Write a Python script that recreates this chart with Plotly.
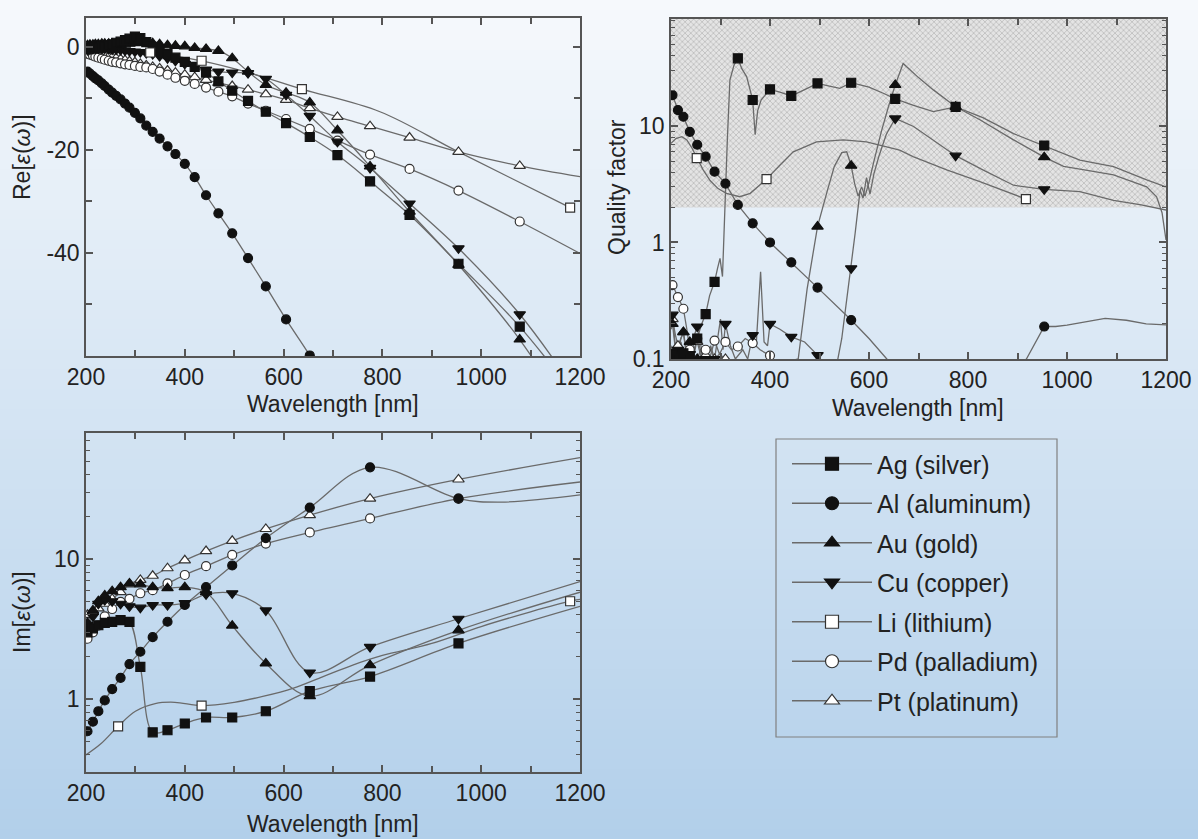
import plotly.graph_objects as go

W, H = 1198, 839
FONT = "Liberation Sans, Arial, Helvetica, sans-serif"

# ---------------- DATA ----------------
METALS = ["Ag", "Al", "Au", "Cu", "Li", "Pd", "Pt"]
LEGEND_NAMES = ["Ag (silver)", "Al (aluminum)", "Au (gold)", "Cu (copper)",
                "Li (lithium)", "Pd (palladium)", "Pt (platinum)"]

# Re[eps] panel: common wavelength grid of the markers (nm)
RE_WL = [203, 208, 214, 219, 225, 232, 238, 246, 253, 261, 270, 279, 288, 299, 310, 322, 335,
         349, 365, 381, 400, 420, 443, 468, 496, 528, 564, 605, 653, 709, 775, 855, 954, 1078]
RE_AG = [-0.3, -0.3, -0.3, -0.2, -0.1, 0.0, 0.1, 0.3, 0.5, 0.8, 1.0, 1.3, 1.6, 2.0, 1.7, 0.9, 0.0,
         -0.8, -1.4, -2.1, -2.9, -3.9, -5.0, -6.7, -8.5, -10.5, -12.6, -14.8, -17.5, -21.0, -26.1,
         -32.6, -42.1, -54.3]
RE_AL = [-4.8, -5.2, -5.7, -6.1, -6.5, -7.1, -7.6, -8.3, -8.9, -9.5, -10.2, -11.0, -11.8, -12.8,
         -13.9, -15.3, -16.5, -17.8, -19.3, -20.8, -22.7, -25.3, -28.8, -32.3, -36.2, -41.0,
         -46.5, -52.9, -59.9, -69.0, None, None, None, None]
RE_AU = [0.3, 0.4, 0.4, 0.5, 0.5, 0.6, 0.6, 0.6, 0.6, 0.6, 0.6, 0.6, 0.6, 0.7, 0.8, 0.8, 0.7,
         0.5, 0.3, 0.2, 0.1, -0.2, -0.4, -0.8, -2.2, -4.8, -7.4, -8.9, -10.8, -16.2, -23.2,
         -32.0, -42.3, -56.8]
RE_CU = [-0.6, -0.5, -0.4, -0.3, -0.3, -0.3, -0.3, -0.4, -0.5, -0.5, -0.6, -0.7, -0.8, -0.9,
         -1.0, -1.2, -1.4, -1.8, -2.2, -2.7, -3.3, -3.9, -4.4, -4.8, -5.0, -5.1, -6.2, -9.3,
         -13.4, -18.4, -23.5, -30.4, -39.1, -51.9]
RE_PD = [-1.3, -1.5, -1.7, -1.9, -2.1, -2.3, -2.5, -2.7, -2.9, -3.0, -3.2, -3.4, -3.5, -3.7,
         -3.9, -4.0, -4.3, -4.8, -5.4, -6.0, -6.6, -7.2, -7.9, -8.7, -9.6, -11.0, -12.4, -14.0,
         -15.9, -18.2, -20.9, -23.7, -27.9, -33.9]
RE_PT = [-1.1, -1.2, -1.3, -1.4, -1.5, -1.6, -1.7, -1.9, -2.0, -2.2, -2.4, -2.6, -2.8, -3.0,
         -3.3, -3.6, -3.9, -4.2, -4.6, -5.0, -5.4, -5.9, -6.4, -7.0, -7.6, -8.3, -9.2, -10.3,
         -11.9, -13.6, -15.4, -17.6, -20.4, -23.1]
# line continuation to the right edge (no marker)
RE_END_WL = 1200
RE_END = {"Ag": -69.0, "Al": None, "Au": -75.0, "Cu": -68.0, "Pd": -40.1, "Pt": -25.2}
# lithium has its own sampling, markers only at some points
RE_LI_WL = [200, 265, 330, 434, 530, 637, 795, 952, 1180]
RE_LI = [-0.2, -0.5, -1.1, -2.7, -5.0, -8.2, -12.6, -20.3, -31.2]
RE_LI_MARK = [0, 0, 1, 1, 0, 1, 0, 0, 1]

# Im[eps] panel
IM_WL = [203, 214, 225, 238, 253, 270, 288, 310, 335, 365, 400, 443, 496, 564, 653, 775, 954]
IM_AG = [3.0, 3.2, 3.37, 3.5, 3.56, 3.66, 3.56, 1.7, 0.58, 0.6, 0.67, 0.74, 0.74, 0.82, 1.14, 1.45, 2.5]
IM_AL = [0.59, 0.69, 0.82, 0.98, 1.18, 1.42, 1.78, 2.18, 2.77, 3.57, 4.7, 6.3, 9.0, 14.1, 23.3, 45.2, 27.0]
IM_AU = [3.5, 4.3, 5.0, 5.5, 5.9, 6.3, 6.7, 6.6, 6.3, 6.2, 6.3, 5.8, 3.35, 1.8, 1.05, 1.75, 3.1]
IM_CU = [3.4, 3.9, 4.8, 5.1, 5.0, 4.8, 4.6, 4.5, 4.7, 4.7, 4.85, 5.6, 5.7, 4.3, 1.55, 2.36, 3.75]
IM_PD = [2.7, 3.0, 3.35, 3.9, 4.4, 4.95, 5.2, 5.7, 6.0, 6.7, 7.7, 8.9, 10.7, 12.9, 15.5, 19.5, 27.0]
IM_PT = [4.0, 4.2, 4.45, 4.8, 5.2, 5.8, 6.6, 7.1, 7.6, 8.6, 9.8, 11.4, 13.5, 16.4, 20.6, 27.0, 37.0]
IM_END_WL = {"Ag": [1200], "Al": [1040, 1200], "Au": [1200], "Cu": [1200], "Pd": [1200], "Pt": [1200]}
IM_END = {"Ag": [4.6], "Al": [25.5, 28.7], "Au": [5.8], "Cu": [6.9], "Pd": [35.5], "Pt": [53.0]}
IM_LI_WL = [200, 230, 265, 300, 340, 380, 434, 500, 560, 620, 680, 740, 800, 900, 1000, 1100, 1180, 1200]
IM_LI = [0.40, 0.48, 0.64, 0.82, 0.93, 0.95, 0.90, 0.95, 1.05, 1.2, 1.45, 1.75, 2.05, 2.5, 3.3, 4.2, 5.0, 5.15]
IM_LI_MARK = [0, 0, 1, 0, 0, 0, 1, 0, 0, 0, 0, 0, 0, 0, 0, 0, 1, 0]

# Quality factor panel: curves
QF_AG_WL = [200, 205, 210, 214, 220, 225, 232, 238, 245, 253, 262, 270, 278, 288, 294, 299, 304, 309,
            314, 319, 327, 335, 343, 353, 360, 365, 370, 375, 382, 400, 420, 443, 470, 496, 520, 541,
            564, 600, 630, 653, 690, 730, 775, 830, 892, 954, 1026, 1094, 1161, 1200]
QF_AG = [0.13, 0.1, 0.12, 0.1, 0.14, 0.112, 0.1, 0.1, 0.13, 0.15, 0.2, 0.243, 0.35, 0.46, 0.6, 0.73,
         0.51, 2.5, 8.0, 24.8, 33, 38.1, 31, 26.4, 20, 16.7, 8.4, 13.5, 16.7, 20.6, 19.5, 18.1, 20.5,
         23.2, 22, 21, 23.5, 21.5, 19, 17.1, 15, 13.3, 14.6, 11.8, 8.6, 6.8, 5.1, 4.48, 3.44, 3.0]
QF_AL_WL = [200, 203, 214, 225, 238, 253, 270, 288, 310, 335, 365, 400, 443, 496, 564, 600, 636, 650,
            905, 918, 954, 977, 1000, 1040, 1077, 1120, 1160, 1200]
QF_AL = [20, 18.4, 13.7, 12.0, 8.9, 6.9, 5.45, 4.05, 3.2, 2.1, 1.46, 1.0, 0.676, 0.41, 0.216, 0.15,
         0.1, 0.085, 0.085, 0.1, 0.19, 0.19, 0.195, 0.21, 0.223, 0.215, 0.2, 0.196]
QF_AU_WL = [200, 203, 208, 214, 220, 225, 232, 238, 245, 253, 260, 270, 280, 290, 300, 457, 475, 496,
            516, 530, 545, 555, 564, 571, 578, 585, 592, 600, 610, 625, 640, 653, 669, 700, 730, 775,
            824, 892, 954, 993, 1050, 1094, 1161, 1181, 1192, 1200]
QF_AU = [0.18, 0.2, 0.13, 0.11, 0.15, 0.17, 0.1, 0.14, 0.1, 0.1, 0.12, 0.09, 0.1, 0.08, 0.07, 0.1,
         0.4, 1.37, 2.8, 4.5, 5.9, 6.0, 4.56, 3.2, 2.5, 3.0, 2.5, 3.3, 5.0, 9.0, 15.0, 22.5, 34.4,
         26.0, 20.4, 14.6, 11.3, 7.6, 5.4, 4.5, 4.1, 3.8, 3.0, 2.47, 1.8, 1.05]
QF_CU_WL = [200, 203, 208, 214, 220, 225, 232, 238, 245, 253, 262, 270, 280, 288, 300, 305, 310, 320,
            330, 345, 355, 365, 372, 381, 388, 395, 400, 420, 443, 470, 496, 510, 535, 545, 564, 572,
            582, 588, 595, 602, 610, 620, 635, 653, 690, 730, 775, 830, 892, 954, 1026, 1094, 1150, 1200]
QF_CU = [0.2, 0.24, 0.14, 0.12, 0.1, 0.1, 0.13, 0.11, 0.15, 0.19, 0.12, 0.1, 0.13, 0.1, 0.22, 0.12,
         0.2, 0.13, 0.1, 0.12, 0.1, 0.16, 0.13, 0.56, 0.14, 0.13, 0.2, 0.18, 0.155, 0.14, 0.108, 0.09,
         0.09, 0.15, 0.6, 1.2, 2.8, 2.4, 3.6, 2.6, 3.9, 5.5, 8.5, 11.6, 9.9, 7.5, 5.56, 4.2, 3.1, 2.86,
         2.73, 2.3, 2.1, 1.9]
QF_LI_WL = [200, 210, 222, 232, 242, 252, 265, 279, 295, 312, 339, 360, 393, 420, 447, 494, 548, 595,
            622, 662, 689, 757, 824, 870, 917]
QF_LI = [7.1, 7.8, 8.1, 7.6, 6.5, 5.3, 4.2, 3.4, 2.9, 2.64, 2.47, 2.64, 3.5, 4.6, 6.0, 7.3, 7.6, 7.3,
         6.8, 6.2, 5.45, 4.2, 3.33, 2.8, 2.36]
QF_LI_MARK = [0, 0, 0, 0, 0, 1, 0, 0, 0, 0, 0, 0, 1, 0, 0, 0, 0, 0, 0, 0, 0, 0, 0, 0, 1]
QF_PD_WL = [200, 203, 209, 214, 220, 225, 232, 238, 245, 253, 262, 270, 278, 288, 298, 310, 322, 335,
            350, 365, 380, 400, 415]
QF_PD = [0.46, 0.43, 0.38, 0.34, 0.3, 0.27, 0.18, 0.12, 0.1, 0.15, 0.11, 0.12, 0.1, 0.144, 0.11, 0.14,
         0.12, 0.128, 0.15, 0.137, 0.12, 0.107, 0.085]
QF_PT_WL = [200, 203, 209, 214, 220, 225, 232, 238, 245, 253, 262, 270, 280, 288, 298, 310, 322, 335, 345]
QF_PT = [0.23, 0.22, 0.16, 0.13, 0.15, 0.17, 0.11, 0.1, 0.12, 0.14, 0.1, 0.108, 0.12, 0.1, 0.11, 0.1,
         0.09, 0.08, 0.075]
# Quality factor panel: markers on the common grid IM_WL
QFM_AG = [0.11, 0.1, 0.112, 0.1, 0.15, 0.243, 0.46, None, 38.1, 16.7, 20.6, 18.1, 23.2, 23.5, 17.1, 14.6, 6.8]
QFM_AL = [18.4, 13.7, 12.0, 8.9, 6.9, 5.45, 4.05, 3.2, 2.1, 1.46, 1.0, 0.676, 0.41, 0.216, None, None, 0.19]
QFM_AU = [0.2, 0.11, 0.17, 0.14, 0.1, None, None, None, None, None, None, None, 1.37, 4.56, 22.5, 14.6, 5.4]
QFM_CU = [0.24, 0.12, 0.1, 0.11, 0.19, 0.1, 0.1, 0.2, None, 0.16, 0.2, 0.155, 0.108, 0.6, 11.6, 5.56, 2.86]
QFM_PD = [0.43, 0.34, 0.27, 0.12, 0.15, 0.12, 0.144, 0.14, 0.128, 0.137, 0.107, None, None, None, None, None, None]
QFM_PT = [0.22, 0.13, 0.17, 0.1, 0.14, 0.108, 0.1, 0.1, None, None, None, None, None, None, None, None, None]
QF_SHADE_MIN = 2  # quality factor threshold of shaded band

X_TICKS = [200, 400, 600, 800, 1000, 1200]
X_MINOR = [300, 500, 700, 900, 1100]
RE_TICKS = [-40, -20, 0]
RE_TICKTEXT = ["-40", "-20", "0"]
RE_MINOR = [-50, -30, -10]
QF_TICKS = [0.1, 1, 10]
QF_TICKTEXT = ["0.1", "1", "10"]
QF_MINOR = [0.2, 0.3, 0.4, 0.5, 0.6, 0.7, 0.8, 0.9, 2, 3, 4, 5, 6, 7, 8, 9, 20, 30, 40, 50, 60, 70, 80]
IM_TICKS = [1, 10]
IM_TICKTEXT = ["1", "10"]
IM_MINOR = [0.3, 0.4, 0.5, 0.6, 0.7, 0.8, 0.9, 2, 3, 4, 5, 6, 7, 8, 9, 20, 30, 40, 50, 60, 70]

# ---------------- STYLE ----------------
LINE_COLOR = "#6a6a6a"
AX_COLOR = "#555555"
TXT = "#222222"
STYLE = {
    "Ag": dict(symbol="square", color="#111111", lc="#111111", size=9),
    "Al": dict(symbol="circle", color="#111111", lc="#111111", size=9),
    "Au": dict(symbol="triangle-up", color="#111111", lc="#111111", size=10),
    "Cu": dict(symbol="triangle-down", color="#111111", lc="#111111", size=10),
    "Li": dict(symbol="square", color="#ffffff", lc="#333333", size=9),
    "Pd": dict(symbol="circle", color="#ffffff", lc="#333333", size=9),
    "Pt": dict(symbol="triangle-up", color="#ffffff", lc="#333333", size=10),
}


def mk(m, size=None):
    s = STYLE[m]
    return dict(symbol=s["symbol"], color=s["color"], size=size or s["size"],
                line=dict(color=s["lc"], width=1.2))


fig = go.Figure()

# background gradient
N = 84
top_c, bot_c = (246, 249, 252), (178, 207, 234)
for i in range(N):
    f = i / (N - 1)
    c = tuple(round(top_c[k] + (bot_c[k] - top_c[k]) * f) for k in range(3))
    fig.add_shape(type="rect", xref="paper", yref="paper", x0=0, x1=1,
                  y0=1 - (i + 1) / N - 0.002, y1=1 - i / N, layer="below",
                  line=dict(width=0), fillcolor="rgb(%d,%d,%d)" % c)


def px2x(p):
    return p / W


def px2y(p):
    return 1 - p / H


# legend box
fig.add_shape(type="rect", xref="paper", yref="paper", x0=px2x(776), x1=px2x(1057),
              y0=px2y(737), y1=px2y(439), line=dict(color="#808080", width=1.2),
              fillcolor="rgba(0,0,0,0)", layer="above")

# ---- Re panel ----
re_vals = {"Ag": RE_AG, "Al": RE_AL, "Au": RE_AU, "Cu": RE_CU, "Pd": RE_PD, "Pt": RE_PT}
for m in ["Ag", "Al", "Au", "Cu", "Pd", "Pt"]:
    xs = RE_WL + ([RE_END_WL] if RE_END[m] is not None else [])
    ys = re_vals[m] + ([RE_END[m]] if RE_END[m] is not None else [])
    fig.add_trace(go.Scatter(x=xs, y=ys, mode="lines", line=dict(color=LINE_COLOR, width=1.3, shape="spline"),
                             connectgaps=False, showlegend=False, hoverinfo="skip", xaxis="x", yaxis="y"))
fig.add_trace(go.Scatter(x=RE_LI_WL, y=RE_LI, mode="lines", line=dict(color=LINE_COLOR, width=1.3, shape="spline"),
                         showlegend=False, hoverinfo="skip", xaxis="x", yaxis="y"))
for m in ["Pt", "Pd", "Cu", "Au", "Ag", "Al"]:
    fig.add_trace(go.Scatter(x=RE_WL, y=re_vals[m], mode="markers", marker=mk(m),
                             showlegend=False, xaxis="x", yaxis="y"))
fig.add_trace(go.Scatter(x=[w for w, f in zip(RE_LI_WL, RE_LI_MARK) if f],
                         y=[v for v, f in zip(RE_LI, RE_LI_MARK) if f],
                         mode="markers", marker=mk("Li"), showlegend=False, xaxis="x", yaxis="y"))

# ---- Im panel ----
im_vals = {"Ag": IM_AG, "Al": IM_AL, "Au": IM_AU, "Cu": IM_CU, "Pd": IM_PD, "Pt": IM_PT}
for m in ["Ag", "Al", "Au", "Cu", "Pd", "Pt"]:
    fig.add_trace(go.Scatter(x=IM_WL + IM_END_WL[m], y=im_vals[m] + IM_END[m], mode="lines",
                             line=dict(color=LINE_COLOR, width=1.3, shape="spline"),
                             showlegend=False, hoverinfo="skip", xaxis="x3", yaxis="y3"))
fig.add_trace(go.Scatter(x=IM_LI_WL, y=IM_LI, mode="lines", line=dict(color=LINE_COLOR, width=1.3, shape="spline"),
                         showlegend=False, hoverinfo="skip", xaxis="x3", yaxis="y3"))
for m in ["Pt", "Pd", "Al", "Cu", "Au", "Ag"]:
    fig.add_trace(go.Scatter(x=IM_WL, y=im_vals[m], mode="markers", marker=mk(m),
                             showlegend=False, xaxis="x3", yaxis="y3"))
fig.add_trace(go.Scatter(x=[w for w, f in zip(IM_LI_WL, IM_LI_MARK) if f],
                         y=[v for v, f in zip(IM_LI, IM_LI_MARK) if f],
                         mode="markers", marker=mk("Li"), showlegend=False, xaxis="x3", yaxis="y3"))

# ---- Quality factor panel ----
fig.add_trace(go.Scatter(x=[200, 1200, 1200, 200, 200],
                         y=[QF_SHADE_MIN, QF_SHADE_MIN, 1000, 1000, QF_SHADE_MIN],
                         mode="lines", fill="toself", line=dict(width=0),
                         fillcolor="rgba(0,0,0,0)",
                         fillpattern=dict(shape="x", size=4, solidity=0.25, fgcolor="#a9a9a9",
                                          bgcolor="#e4e4e4", fgopacity=1),
                         showlegend=False, hoverinfo="skip", xaxis="x2", yaxis="y2"))
qf_lines = {"Ag": (QF_AG_WL, QF_AG), "Al": (QF_AL_WL, QF_AL), "Au": (QF_AU_WL, QF_AU),
            "Cu": (QF_CU_WL, QF_CU), "Li": (QF_LI_WL, QF_LI), "Pd": (QF_PD_WL, QF_PD),
            "Pt": (QF_PT_WL, QF_PT)}
for m, (xs, ys) in qf_lines.items():
    fig.add_trace(go.Scatter(x=xs, y=ys, mode="lines", line=dict(color=LINE_COLOR, width=1.3),
                             showlegend=False, hoverinfo="skip", xaxis="x2", yaxis="y2"))
qf_marks = {"Pt": QFM_PT, "Pd": QFM_PD, "Cu": QFM_CU, "Au": QFM_AU, "Al": QFM_AL, "Ag": QFM_AG}
for m, ys in qf_marks.items():
    fig.add_trace(go.Scatter(x=IM_WL, y=ys, mode="markers", marker=mk(m),
                             showlegend=False, xaxis="x2", yaxis="y2"))
fig.add_trace(go.Scatter(x=[w for w, f in zip(QF_LI_WL, QF_LI_MARK) if f],
                         y=[v for v, f in zip(QF_LI, QF_LI_MARK) if f],
                         mode="markers", marker=mk("Li"), showlegend=False, xaxis="x2", yaxis="y2"))

# ---- legend entries ----
for i, (m, name) in enumerate(zip(METALS, LEGEND_NAMES)):
    fig.add_trace(go.Scatter(x=[None], y=[None], mode="lines+markers", name=name,
                             line=dict(color=LINE_COLOR, width=1.3), marker=mk(m, 13),
                             legendgroup=m, showlegend=True, xaxis="x", yaxis="y"))


common = dict(showline=True, linecolor=AX_COLOR, linewidth=1.5, mirror="ticks", ticks="inside",
              ticklen=7, tickwidth=1.5, tickcolor=AX_COLOR, showgrid=False, zeroline=False,
              automargin=False, tickfont=dict(family=FONT, size=23, color=TXT))
xcommon = dict(common, range=[200, 1200], tickmode="array", tickvals=X_TICKS,
               minor=dict(tickmode="array", tickvals=X_MINOR, ticks="inside", ticklen=6,
                          tickwidth=1.5, tickcolor=AX_COLOR))

fig.update_layout(
    width=W, height=H, margin=dict(l=0, r=0, t=0, b=0, autoexpand=False),
    paper_bgcolor="#dfeaf5", plot_bgcolor="rgba(0,0,0,0)",
    font=dict(family=FONT, color=TXT),
    xaxis=dict(xcommon, domain=[px2x(86), px2x(580)], anchor="y"),
    yaxis=dict(common, domain=[px2y(356), px2y(18)], anchor="x", range=[-60, 5.6],
               tickmode="array", tickvals=RE_TICKS, ticktext=RE_TICKTEXT,
               minor=dict(tickmode="array", tickvals=RE_MINOR, ticks="inside", ticklen=6,
                          tickwidth=1.5, tickcolor=AX_COLOR)),
    xaxis2=dict(xcommon, domain=[px2x(671), px2x(1166)], anchor="y2"),
    yaxis2=dict(common, domain=[px2y(359), px2y(19)], anchor="x2", type="log", range=[-1, 1.918],
                tickmode="array", tickvals=QF_TICKS, ticktext=QF_TICKTEXT,
                minor=dict(tickmode="array", tickvals=QF_MINOR, ticks="inside", ticklen=4,
                           tickwidth=1.2, tickcolor=AX_COLOR)),
    xaxis3=dict(xcommon, domain=[px2x(86), px2x(580)], anchor="y3"),
    yaxis3=dict(common, domain=[px2y(772), px2y(433)], anchor="x3", type="log", range=[-0.52, 1.9],
                tickmode="array", tickvals=IM_TICKS, ticktext=IM_TICKTEXT,
                minor=dict(tickmode="array", tickvals=IM_MINOR, ticks="inside", ticklen=4,
                           tickwidth=1.2, tickcolor=AX_COLOR)),
    legend=dict(x=px2x(787), y=px2y(441), xanchor="left", yanchor="top",
                bgcolor="rgba(0,0,0,0)", borderwidth=0,
                font=dict(family=FONT, size=25, color=TXT), itemwidth=80,
                tracegroupgap=4, itemsizing="trace"),
    showlegend=True,
)

ann = [
    dict(text="Re[<i>ε</i>(<i>ω</i>)]", x=px2x(22), y=px2y(157), textangle=-90),
    dict(text="Wavelength [nm]", x=px2x(333), y=px2y(404), textangle=0),
    dict(text="Quality factor", x=px2x(617), y=px2y(187), textangle=-90),
    dict(text="Wavelength [nm]", x=px2x(918), y=px2y(408), textangle=0),
    dict(text="Im[<i>ε</i>(<i>ω</i>)]", x=px2x(22), y=px2y(612), textangle=-90),
    dict(text="Wavelength [nm]", x=px2x(333), y=px2y(824), textangle=0),
]
for a in ann:
    fig.add_annotation(xref="paper", yref="paper", showarrow=False, xanchor="center", yanchor="middle",
                       font=dict(family=FONT, size=23, color=TXT), **a)

fig.write_html("out.html")
